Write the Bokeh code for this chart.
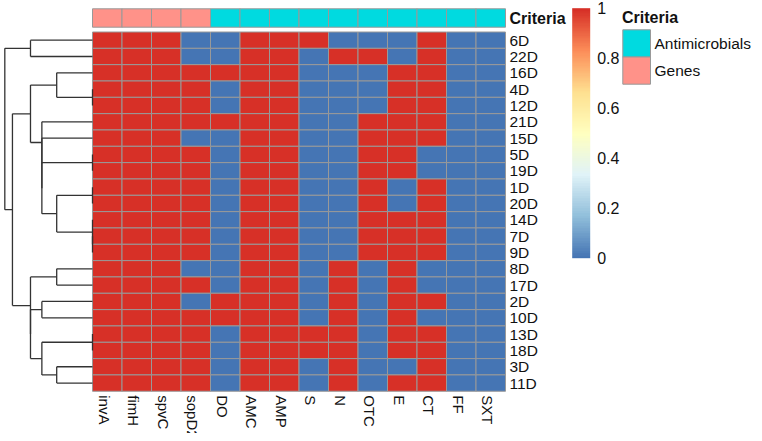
import math
from bokeh.plotting import figure
from bokeh.models import (ColumnDataSource, LinearColorMapper, ColorBar, FixedTicker,
                          Range1d, CategoricalColorMapper)
from bokeh.core.properties import value
from bokeh.embed import file_html
from bokeh.resources import INLINE

# ---------------- data ----------------
columns = ["invA", "fimH", "spvC", "sopD2", "DO", "AMC", "AMP", "S", "N", "OTC", "E", "CT", "FF", "SXT"]
criteria = ["Genes"] * 4 + ["Antimicrobials"] * 10
rows = ["6D", "22D", "16D", "4D", "12D", "21D", "15D", "5D", "19D", "1D", "20D",
        "14D", "7D", "9D", "8D", "17D", "2D", "10D", "13D", "18D", "3D", "11D"]
matrix = [
    [1, 1, 1, 0, 0, 1, 1, 1, 0, 0, 0, 1, 0, 0],  # 6D
    [1, 1, 1, 0, 0, 1, 1, 0, 1, 1, 0, 1, 0, 0],  # 22D
    [1, 1, 1, 1, 1, 1, 1, 0, 0, 0, 1, 1, 0, 0],  # 16D
    [1, 1, 1, 1, 0, 1, 1, 0, 0, 0, 1, 1, 0, 0],  # 4D
    [1, 1, 1, 1, 0, 1, 1, 0, 0, 0, 1, 1, 0, 0],  # 12D
    [1, 1, 1, 1, 1, 1, 1, 0, 0, 1, 1, 1, 0, 0],  # 21D
    [1, 1, 1, 0, 0, 1, 1, 0, 0, 1, 1, 1, 0, 0],  # 15D
    [1, 1, 1, 1, 0, 1, 1, 0, 0, 1, 1, 0, 0, 0],  # 5D
    [1, 1, 1, 1, 0, 1, 1, 0, 0, 1, 1, 0, 0, 0],  # 19D
    [1, 1, 1, 1, 0, 1, 1, 0, 0, 1, 0, 1, 0, 0],  # 1D
    [1, 1, 1, 1, 0, 1, 1, 0, 0, 1, 0, 1, 0, 0],  # 20D
    [1, 1, 1, 1, 0, 1, 1, 0, 0, 1, 1, 1, 0, 0],  # 14D
    [1, 1, 1, 1, 0, 1, 1, 0, 0, 1, 1, 1, 0, 0],  # 7D
    [1, 1, 1, 1, 0, 1, 1, 0, 0, 1, 1, 1, 0, 0],  # 9D
    [1, 1, 1, 0, 0, 1, 1, 0, 1, 0, 1, 0, 0, 0],  # 8D
    [1, 1, 1, 1, 0, 1, 1, 0, 1, 0, 1, 0, 0, 0],  # 17D
    [1, 1, 1, 0, 1, 1, 1, 0, 1, 0, 1, 1, 0, 0],  # 2D
    [1, 1, 1, 1, 1, 1, 1, 0, 1, 0, 1, 0, 0, 0],  # 10D
    [1, 1, 1, 1, 0, 1, 1, 1, 1, 0, 1, 1, 0, 0],  # 13D
    [1, 1, 1, 1, 0, 1, 1, 1, 1, 0, 1, 1, 0, 0],  # 18D
    [1, 1, 1, 1, 0, 1, 1, 0, 1, 0, 0, 1, 0, 0],  # 3D
    [1, 1, 1, 1, 0, 1, 1, 0, 1, 0, 1, 1, 0, 0],  # 11D
]
# row dendrogram topology (complete linkage, euclidean); heights derived from matrix
tree = (("6D", "22D"),
        ((("16D", ("4D", "12D")),
          ("21D", ("15D", (("5D", "19D"), (("1D", "20D"), ("14D", ("7D", "9D"))))))),
         (("8D", "17D"), (("2D", "10D"), (("13D", "18D"), ("3D", "11D"))))))
legend_title = "Criteria"
legend_levels = ["Antimicrobials", "Genes"]
legend_colors = ["#00DAE0", "#FF9289"]
cb_ticks = [0, 0.2, 0.4, 0.6, 0.8, 1]
cb_labels = ["0", "0.2", "0.4", "0.6", "0.8", "1"]
base_colors = ["#4575B4", "#91BFDB", "#E0F3F8", "#FFFFBF", "#FEE090", "#FC8D59", "#D73027"]

# ---------------- layout constants (pixels) ----------------
FW, FH = 754, 433
CW, RH = 29.5, 16.33
HM_LEFT, HM_TOP = 92.0, 31.5
ANN_GAP, ANN_HPX = 4.8, 18.4
DEND_PX = 35.8
LBL_PAD = 4.0
COL_SHIFT = -3.0
CB_X, CB_BOTTOM, CB_W, CB_H = 571.7, 257.7, 18, 250
LEG_X, LEG_TOP, LEG_W, LEG_H = 622.3, 29.3, 27.7, 27.2
LEG_TITLE_X, LEG_TITLE_Y, LEG_LABEL_X = 621.5, 17.0, 654.0
FONT = value("Liberation Sans")
TXT = "#111111"


def interp_palette(cols, n):
    rgb = [tuple(int(c[i:i + 2], 16) for i in (1, 3, 5)) for c in cols]
    out = []
    for k in range(n):
        t = k / (n - 1) * (len(rgb) - 1)
        i = min(int(t), len(rgb) - 2)
        f = t - i
        c = [round(rgb[i][j] + (rgb[i + 1][j] - rgb[i][j]) * f) for j in range(3)]
        out.append("#%02x%02x%02x" % tuple(c))
    return out


def dx(px):  # pixel -> data x
    return (px - HM_LEFT) / CW


def dy(py):  # pixel -> data y
    return (py - HM_TOP) / RH


palette = interp_palette(base_colors, 100)
nr, nc = len(rows), len(columns)

p = figure(width=FW, height=FH, output_backend="svg", toolbar_location=None,
           x_axis_location=None, y_axis_location=None, min_border=0,
           x_range=Range1d(dx(0), dx(FW)), y_range=Range1d(dy(FH), dy(0)))
p.grid.visible = False
p.outline_line_color = None
p.background_fill_color = "white"
p.border_fill_color = "white"

# heatmap cells
hx, hy, hv = [], [], []
for i, r in enumerate(rows):
    for j, c in enumerate(columns):
        hx.append(j + 0.5)
        hy.append(i + 0.5)
        hv.append(matrix[i][j])
mapper = LinearColorMapper(palette=palette, low=0, high=1)
p.rect(x="x", y="y", width=1, height=1, source=ColumnDataSource(dict(x=hx, y=hy, v=hv)),
       fill_color={"field": "v", "transform": mapper}, line_color="#999999", line_width=1)

# annotation bar
ann_y = -(ANN_GAP + ANN_HPX / 2) / RH
cmap = CategoricalColorMapper(factors=legend_levels, palette=legend_colors)
ann_src = ColumnDataSource(dict(x=[j + 0.5 for j in range(nc)], y=[ann_y] * nc, crit=criteria))
p.rect(x="x", y="y", width=1, height=ANN_HPX / RH, source=ann_src,
       fill_color={"field": "crit", "transform": cmap}, line_color="#999999", line_width=1)

# dendrogram
def dist(a, b):
    return math.sqrt(sum((matrix[a][k] - matrix[b][k]) ** 2 for k in range(nc)))

dscale = DEND_PX / CW
seg = dict(x0=[], y0=[], x1=[], y1=[])

def walk(node):
    if isinstance(node, str):
        i = rows.index(node)
        return i + 0.5, 0.0, [i]
    ya, ha, la = walk(node[0])
    yb, hb, lb = walk(node[1])
    h = max(dist(a, b) for a in la for b in lb)
    xn = -h * dscale
    for (x0, y0, y1, x1) in [(xn, ya, yb, xn), (xn, ya, ya, -ha * dscale), (xn, yb, yb, -hb * dscale)]:
        seg["x0"].append(x0); seg["y0"].append(y0); seg["x1"].append(x1); seg["y1"].append(y1)
    return (ya + yb) / 2, h, la + lb

walk(tree)
p.segment(x0="x0", y0="y0", x1="x1", y1="y1", source=ColumnDataSource(seg),
          line_color="#333333", line_width=1.3)

# labels
off = LBL_PAD / CW
p.text(x=[nc + off] * nr, y=[i + 0.5 for i in range(nr)], text=rows, text_font=FONT,
       text_font_size="15.5px", text_baseline="middle", text_align="left", text_color=TXT)
p.text(x=[j + 0.5 + COL_SHIFT / CW for j in range(nc)], y=[nr + LBL_PAD / RH] * nc, text=columns,
       angle=-math.pi / 2, text_font=FONT, text_font_size="15px", text_baseline="middle",
       text_align="left", text_color=TXT)
p.text(x=[nc + off], y=[ann_y], text=[legend_title], text_font=FONT, text_font_size="16px",
       text_font_style="bold", text_baseline="middle", text_align="left", text_color=TXT)

# colour bar
cb = ColorBar(color_mapper=mapper, ticker=FixedTicker(ticks=cb_ticks),
              major_label_overrides={t: l for t, l in zip(cb_ticks, cb_labels)},
              width=CB_W, height=CB_H, location=(CB_X, FH - CB_BOTTOM), padding=0, margin=0,
              label_standoff=7, major_tick_line_color=None, minor_tick_line_color=None,
              bar_line_color=None, border_line_color=None, background_fill_color=None,
              major_label_text_font_size="16px", major_label_text_font="Liberation Sans",
              major_label_text_color=TXT, orientation="vertical")
p.add_layout(cb)

# annotation legend (drawn as glyphs)
nl = len(legend_levels)
leg_y = [dy(LEG_TOP + (k + 0.5) * LEG_H) for k in range(nl)]
p.rect(x=[dx(LEG_X + LEG_W / 2)] * nl, y=leg_y, width=LEG_W / CW, height=LEG_H / RH,
       fill_color=legend_colors, line_color="#999999", line_width=1)
p.text(x=[dx(LEG_LABEL_X)] * nl, y=leg_y, text=legend_levels, text_font=FONT,
       text_font_size="15.5px", text_baseline="middle", text_align="left", text_color=TXT)
p.text(x=[dx(LEG_TITLE_X)], y=[dy(LEG_TITLE_Y)], text=[legend_title], text_font=FONT,
       text_font_size="16px", text_font_style="bold", text_baseline="middle",
       text_align="left", text_color=TXT)

open("out.html", "w").write(file_html(p, INLINE))
